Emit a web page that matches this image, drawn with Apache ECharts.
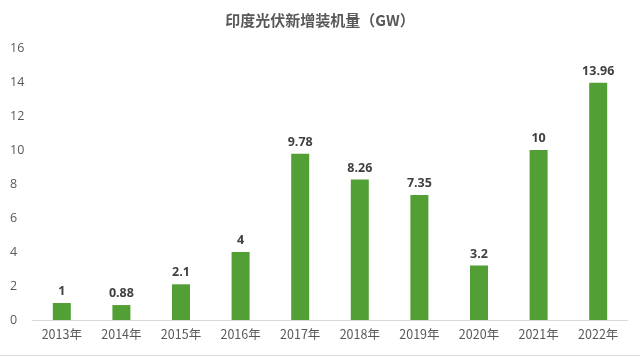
<!DOCTYPE html>
<html><head><meta charset="utf-8">
<script src="https://cdn.jsdelivr.net/npm/echarts@6/dist/echarts.min.js"></script>
<style>html,body{margin:0;padding:0;background:#fff}#c{width:640px;height:357px}</style>
</head><body><div id="c"></div>
<script>
const categories = ['2013年','2014年','2015年','2016年','2017年','2018年','2019年','2020年','2021年','2022年'];
const values = [1, 0.88, 2.1, 4, 9.78, 8.26, 7.35, 3.2, 10, 13.96];
const labels = ['1','0.88','2.1','4','9.78','8.26','7.35','3.2','10','13.96'];
const chart = echarts.init(document.getElementById('c'));
chart.setOption({
  animation: false,
  title: {text: '印度光伏新增装机量（GW）', left: 'center', top: 8,
    textStyle: {fontFamily: 'Noto Sans CJK SC', fontSize: 15, fontWeight: 'bold', color: '#595959'}},
  grid: {left: 32, right: 12, top: 48, bottom: 37},
  xAxis: {type: 'category', data: categories,
    axisLine: {lineStyle: {color: '#d9d9d9'}}, axisTick: {show: false},
    axisLabel: {color: '#595959', fontSize: 12.5, fontFamily: 'Noto Sans CJK SC', margin: 8}},
  yAxis: {type: 'value', min: 0, max: 16, interval: 2,
    splitLine: {show: false}, axisLine: {show: false}, axisTick: {show: false},
    axisLabel: {color: '#595959', fontSize: 12.5, fontFamily: 'Open Sans', margin: 22, align: 'left'}},
  series: [{type: 'bar', data: values, barWidth: 18,
    itemStyle: {color: '#52a035'},
    label: {show: true, position: 'top', distance: 5, fontWeight: 'bold', fontSize: 12.5, color: '#404040',
      fontFamily: 'Open Sans', formatter: p => labels[p.dataIndex]}}],
  graphic: [{type: 'line', shape: {x1: 0, y1: 355.5, x2: 640, y2: 355.5}, style: {stroke: '#d9d9d9', lineWidth: 1}}]
});
</script></body></html>
